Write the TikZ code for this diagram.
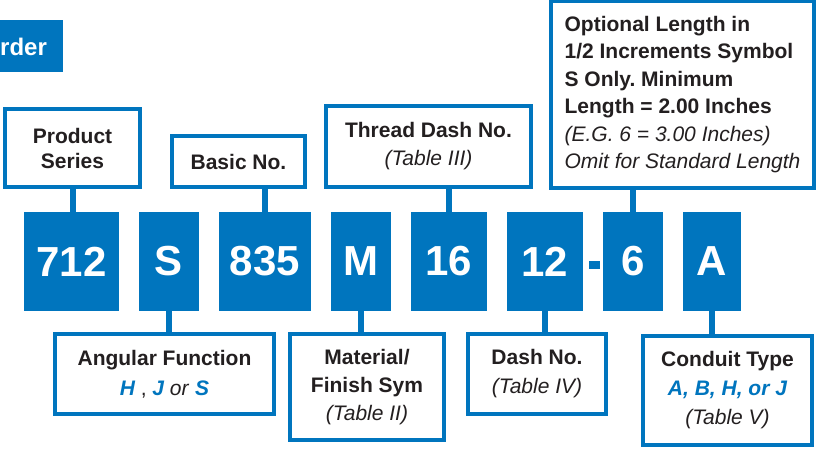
\documentclass[tikz,border=0pt]{standalone}
\usepackage{fontspec}
\setmainfont{Liberation Sans}
\frenchspacing
\definecolor{dblue}{RGB}{0,117,190}
\definecolor{dtext}{RGB}{35,31,32}
\begin{document}
\begin{tikzpicture}[x=1pt,y=-1pt,
  lbox/.style={draw=dblue, line width=4pt, fill=white, inner sep=0pt, align=center, text=dtext},
  codebox/.style={fill=dblue, inner sep=0pt, minimum height=99pt, text=white, font=\fontsize{42}{50}\selectfont\bfseries},
  stem/.style={draw=dblue, line width=6pt},
  bl/.style={text=dblue, font=\bfseries\itshape}
]
\useasboundingbox (0,0) rectangle (817,449);

% header fragment
\node[fill=dblue, minimum width=63pt, minimum height=52pt, inner sep=0pt] (order) at (31.5,46) {};
\node[anchor=base west, text=white, font=\fontsize{24}{28}\selectfont\bfseries, inner sep=0pt] (ordertxt) at (0,56) {rder};

% code boxes
\node[codebox, minimum width=95pt] (c712) at (71.5,261.5) {712};
\node[codebox, minimum width=60pt] (cS) at (169,261.5) {S};
\node[codebox, minimum width=92pt] (c835) at (265,261.5) {835};
\node[codebox, minimum width=60pt] (cM) at (361,261.5) {M};
\node[codebox, minimum width=76pt] (c16) at (449,261.5) {16};
\node[codebox, minimum width=76pt] (c12) at (545,261.5) {12};
\node[fill=dblue, minimum width=11pt, minimum height=8pt, inner sep=0pt] (dash) at (594.5,265) {};
\node[codebox, minimum width=60pt] (c6) at (633,261.5) {6};
\node[codebox, minimum width=58pt] (cA) at (712,261.5) {A};

% top label boxes
\node[lbox, minimum width=135pt, minimum height=78pt, font=\fontsize{21}{25}\selectfont\bfseries] (ps) at (72.5,148) {Product\\Series};
\node[lbox, minimum width=133pt, minimum height=51pt, font=\fontsize{21}{25}\selectfont\bfseries] (basic) at (238.5,161.5) {Basic No.};
\node[lbox, minimum width=205pt, minimum height=81pt, font=\fontsize{21}{28}\selectfont] (thread) at (428.5,146.5) {\textbf{Thread Dash No.}\\\textit{(Table III)}};
\node[lbox, minimum width=263pt, minimum height=187pt, align=left, font=\fontsize{21}{27.4}\selectfont] (opt) at (682.5,94.5)
  {\textbf{Optional Length in}\\\textbf{1/2 Increments Symbol}\\\textbf{S Only. Minimum}\\\textbf{Length = 2.00 Inches}\\\textit{(E.G. 6 = 3.00 Inches)}\\\textit{Omit for Standard Length}};

% bottom label boxes
\node[lbox, minimum width=219pt, minimum height=80pt, font=\fontsize{21}{30}\selectfont] (ang) at (164.5,374)
  {\textbf{Angular Function}\\{\color{dblue}\bfseries\itshape H} , {\color{dblue}\bfseries\itshape J} \textit{or} {\color{dblue}\bfseries\itshape S}};
\node[lbox, minimum width=154pt, minimum height=106pt, font=\fontsize{21}{28}\selectfont] (mat) at (367,387)
  {\textbf{Material/}\\\textbf{Finish Sym}\\\textit{(Table II)}};
\node[lbox, minimum width=138pt, minimum height=80pt, font=\fontsize{21}{29}\selectfont] (dno) at (537,374)
  {\textbf{Dash No.}\\\textit{(Table IV)}};
\node[lbox, minimum width=169pt, minimum height=109pt, font=\fontsize{21}{29}\selectfont] (cond) at (727.5,390.5)
  {\textbf{Conduit Type}\\{\color{dblue}\bfseries\itshape A, B, H, or J}\\\textit{(Table V)}};

% stems
\draw[stem] (ps.south) -- (ps.south |- c712.north);
\draw[stem] (c835.north) -- (c835.north |- basic.south);
\draw[stem] (c16.north) -- (c16.north |- thread.south);
\draw[stem] (c6.north) -- (c6.north |- opt.south);
\draw[stem] (cS.south) -- (cS.south |- ang.north);
\draw[stem] (cM.south) -- (cM.south |- mat.north);
\draw[stem] (c12.south) -- (c12.south |- dno.north);
\draw[stem] (cA.south) -- (cA.south |- cond.north);
\end{tikzpicture}
\end{document}
